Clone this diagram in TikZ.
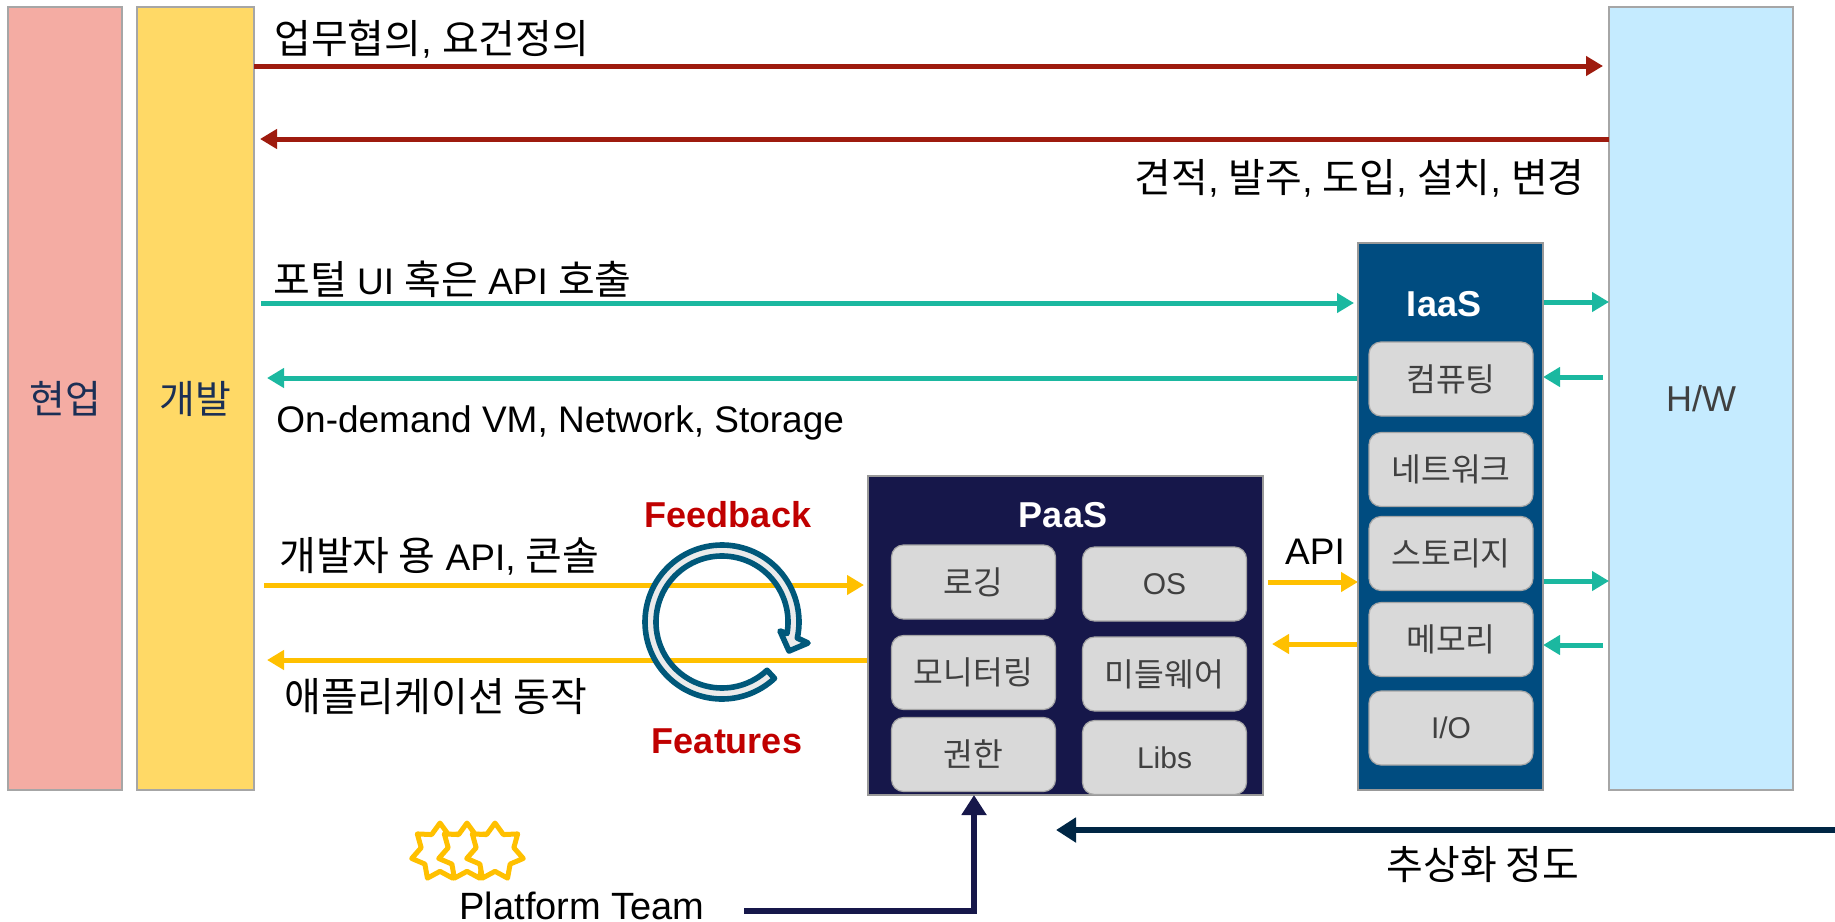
\documentclass[tikz,border=0pt]{standalone}
\usepackage{fontspec}
\setmainfont{Liberation Sans}
\newfontfamily\kofont[Scale=1.08]{Noto Sans CJK KR}
\newcommand{\ko}[1]{{\kofont #1}}
\usetikzlibrary{arrows.meta,shapes.geometric}
\definecolor{barred}{HTML}{F4ACA3}
\definecolor{baryellow}{HTML}{FFD966}
\definecolor{barblue}{HTML}{C5EBFF}
\definecolor{iaasblue}{HTML}{004C80}
\definecolor{paasnavy}{HTML}{16174A}
\definecolor{arrowred}{HTML}{9E1B0E}
\definecolor{arrowteal}{HTML}{1BB8A0}
\definecolor{arrowyellow}{HTML}{FFC000}
\definecolor{arrownavy}{HTML}{002644}
\definecolor{ringblue}{HTML}{00587A}
\definecolor{labelnavy}{HTML}{1B2F55}
\definecolor{labelgray}{HTML}{404040}
\definecolor{loopred}{HTML}{C00000}
\tikzset{
	bar/.style={draw=black!35,line width=1pt,inner sep=0pt,minimum height=391.5pt},
	layer/.style={draw=black!40,line width=1pt,inner sep=0pt,text=white},
	item/.style={draw=black!35,line width=0.6pt,fill=black!15,rounded corners=6pt,inner sep=0pt,minimum width=82pt,minimum height=37pt,text=labelgray,font=\fontsize{15}{18}\selectfont},
	label/.style={inner sep=0pt,text=black,font=\fontsize{18.5}{22}\selectfont},
	redarrow/.style={arrowred,line width=2.5pt,-{Triangle[length=8.5pt,width=9.5pt]}},
	tealarrow/.style={arrowteal,line width=2.5pt,-{Triangle[length=8.5pt,width=9.5pt]}},
	yellowarrow/.style={arrowyellow,line width=2.5pt,-{Triangle[length=8.5pt,width=9.5pt]}},
	navyarrow/.style={line width=3pt,-{Triangle[length=10pt,width=12pt]}},
	badge/.style={shape=star,star points=7,star point ratio=1.5,draw=arrowyellow,fill=white,line width=2.5pt,line join=round,inner sep=0pt,minimum size=29pt}
}
\begin{document}
\begin{tikzpicture}[x=0.5pt,y=-0.5pt]
	\useasboundingbox (0,0) rectangle (1835,921);

	\node (hyeonup) [bar,fill=barred,minimum width=57pt,text=labelnavy,font=\fontsize{18}{22}\selectfont] at (65,398.5) {\ko{현업}};
	\node (gaebal) [bar,fill=baryellow,minimum width=58.5pt,text=labelnavy,font=\fontsize{18}{22}\selectfont] at (195.5,398.5) {\ko{개발}};
	\node (hw) [bar,fill=barblue,minimum width=92pt,text=labelgray,font=\fontsize{18}{22}\selectfont] at (1701,398.5) {H/W};

	\coordinate (a1) at (254,66);
	\coordinate (a2) at (1603,66);
	\coordinate (a3) at (1609,139);
	\coordinate (a4) at (260,139);
	\coordinate (a5) at (261,303);
	\coordinate (a6) at (1354,303);
	\coordinate (a7) at (1358,378);
	\coordinate (a8) at (267,378);
	\coordinate (a9) at (264,585);
	\coordinate (a10) at (864,585);
	\coordinate (a11) at (868,660);
	\coordinate (a12) at (267,660);
	\coordinate (a13) at (1268,582);
	\coordinate (a14) at (1358,582);
	\coordinate (a15) at (1358,644);
	\coordinate (a16) at (1272,644);
	\coordinate (a17) at (1543,302);
	\coordinate (a18) at (1609,302);
	\coordinate (a19) at (1603,377);
	\coordinate (a20) at (1543,377);
	\coordinate (a21) at (1543,581);
	\coordinate (a22) at (1609,581);
	\coordinate (a23) at (1603,645);
	\coordinate (a24) at (1543,645);
	\coordinate (a25) at (1835,830);
	\coordinate (a26) at (1056,830);
	\coordinate (a27) at (744,911);
	\coordinate (a28) at (974,795);

	\draw [redarrow] (a1) -- (a2);
	\draw [redarrow] (a3) -- (a4);
	\draw [tealarrow] (a5) -- (a6);
	\draw [tealarrow] (a7) -- (a8);
	\draw [yellowarrow] (a9) -- (a10);
	\draw [yellowarrow] (a11) -- (a12);
	\draw [yellowarrow] (a13) -- (a14);
	\draw [yellowarrow] (a15) -- (a16);
	\draw [tealarrow] (a17) -- (a18);
	\draw [tealarrow] (a19) -- (a20);
	\draw [tealarrow] (a21) -- (a22);
	\draw [tealarrow] (a23) -- (a24);
	\draw [navyarrow,arrownavy] (a25) -- (a26);

	\node (iaas) [layer,fill=iaasblue,minimum width=92.5pt,minimum height=273.5pt] at (1450.5,516.5) {};
	\node (paas) [layer,fill=paasnavy,minimum width=197.5pt,minimum height=159.5pt] at (1065.5,635.5) {};
	\draw [navyarrow,paasnavy] (a27) -| (a28);

	\node (iaastitle) [inner sep=0pt,text=white,font=\bfseries\fontsize{18}{22}\selectfont] at (1444,304) {IaaS};
	\node (paastitle) [inner sep=0pt,text=white,font=\bfseries\fontsize{18}{22}\selectfont] at (1063,515) {PaaS};

	\node (computing) [item] at (1451,379) {\ko{컴퓨팅}};
	\node (network) [item] at (1451,469.5) {\ko{네트워크}};
	\node (storage) [item] at (1451,553.5) {\ko{스토리지}};
	\node (memory) [item] at (1451,639.5) {\ko{메모리}};
	\node (io) [item] at (1451,728) {I/O};
	\node (logging) [item] at (973.5,582) {\ko{로깅}};
	\node (os) [item] at (1164.5,584) {OS};
	\node (monitoring) [item] at (973.5,672.5) {\ko{모니터링}};
	\node (middleware) [item] at (1164.5,674) {\ko{미들웨어}};
	\node (auth) [item] at (973.5,754.5) {\ko{권한}};
	\node (libs) [item] at (1164.5,757.5) {Libs};

	\node (l1) [label,anchor=west] at (274,39) {\ko{업무협의}, \ko{요건정의}};
	\node (l2) [label,anchor=east] at (1585,178) {\ko{견적}, \ko{발주}, \ko{도입}, \ko{설치}, \ko{변경}};
	\node (l3) [label,anchor=west] at (273,279) {\ko{포털} UI \ko{혹은} API \ko{호출}};
	\node (l4) [label,anchor=west] at (276,423) {On-demand VM, Network, Storage};
	\node (l5) [label,anchor=west] at (279,556) {\ko{개발자 용} API, \ko{콘솔}};
	\node (l6) [label,anchor=west] at (284,697) {\ko{애플리케이션 동작}};
	\node (l7) [label] at (1315,552) {API};
	\node (l8) [label,font=\fontsize{19}{22}\selectfont] at (582,906) {Platform Team};
	\node (l9) [label] at (1483,865) {\ko{추상화 정도}};
	\node (feedback) [inner sep=0pt,text=loopred,font=\bfseries\fontsize{18}{22}\selectfont] at (728,515) {Feedback};
	\node (features) [inner sep=0pt,text=loopred,font=\bfseries\fontsize{18}{22}\selectfont] at (727,741) {Features};

	\node (star1) [badge] at (440,852) {};
	\node (star2) [badge] at (467,852) {};
	\node (star3) [badge] at (495,852) {};

	\begin{scope}[shift={(722,622)}]
		\draw [ringblue,fill=black!8,line width=2.8pt,line join=round] (47:77) arc (47:372:77) -- (86,21) -- (67,29) -- (58,9) -- (10:66) arc (370:47:66) -- cycle;
	\end{scope}
\end{tikzpicture}
\end{document}
